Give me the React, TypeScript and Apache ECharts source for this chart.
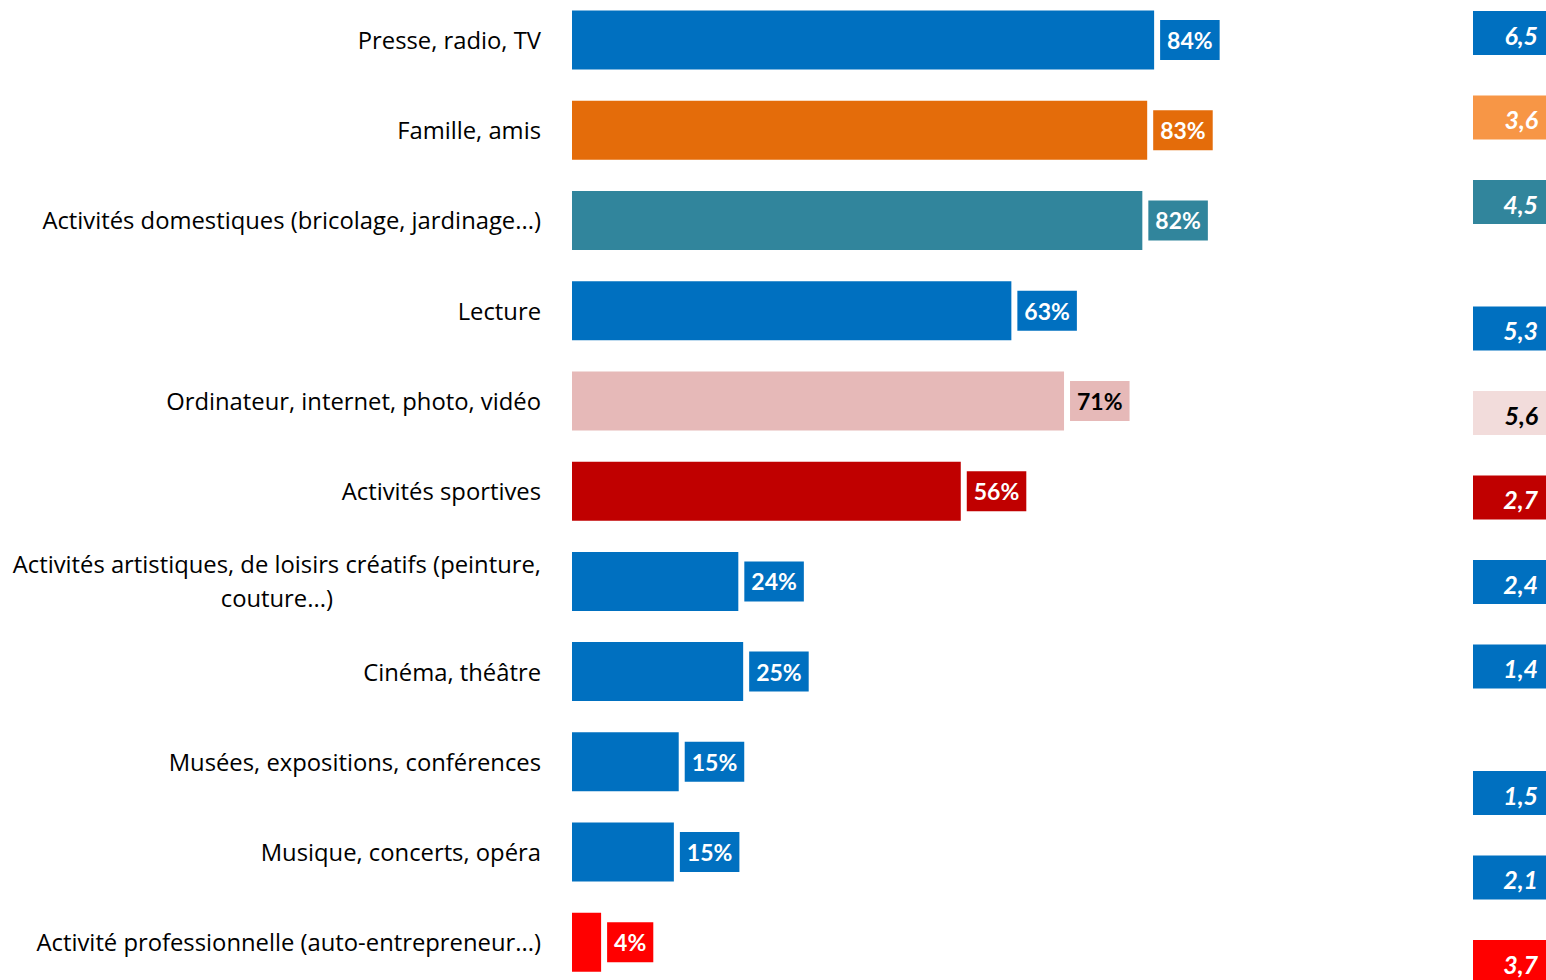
import React, { useEffect, useRef } from "react";
import * as echarts from "echarts";

const categories = [
  "Presse, radio, TV",
  "Famille, amis",
  "Activités domestiques (bricolage, jardinage...)",
  "Lecture",
  "Ordinateur, internet, photo, vidéo",
  "Activités sportives",
  "Activités artistiques, de loisirs créatifs (peinture,\ncouture...)",
  "Cinéma, théâtre",
  "Musées, expositions, conférences",
  "Musique, concerts, opéra",
  "Activité professionnelle (auto-entrepreneur...)",
];
const shareValues = [84, 83, 82.3, 63.4, 71, 56.1, 24, 24.7, 15.4, 14.7, 4.2];
const barColors = [
  "#0070C0", "#E46C0A", "#31859C", "#0070C0", "#E6B9B8", "#C00000",
  "#0070C0", "#0070C0", "#0070C0", "#0070C0", "#FF0000",
];
const barLabelColors = [
  "#fff", "#fff", "#fff", "#fff", "#000", "#fff", "#fff", "#fff", "#fff", "#fff", "#fff",
];
const scoreValues = [6.5, 3.6, 4.5, 5.3, 5.6, 2.7, 2.4, 1.4, 1.5, 2.1, 3.7];
const scoreSlots = [0, 1, 2, 3.5, 4.5, 5.5, 6.5, 7.5, 9, 10, 11];
const scoreColors = [
  "#0070C0", "#F79646", "#31859C", "#0070C0", "#F2DCDB", "#C00000",
  "#0070C0", "#0070C0", "#0070C0", "#0070C0", "#FF0000",
];
const scoreTextColors = [
  "#fff", "#fff", "#fff", "#fff", "#000", "#fff", "#fff", "#fff", "#fff", "#fff", "#fff",
];

const CAT_FONT = "'Open Sans', 'Noto Sans', sans-serif";
const NUM_FONT = "Lato, 'Noto Sans', sans-serif";
const CAT_SIZE = 23.8;

export default function App() {
  const ref = useRef<HTMLDivElement>(null);
  useEffect(() => {
    if (!ref.current) return;
    const chart = echarts.init(ref.current, undefined, { renderer: "svg" });
    chart.setOption({
      animation: false,
      backgroundColor: "#ffffff",
      textStyle: { fontFamily: CAT_FONT },
      grid: [
        {
          left: 572, top: -5.1, width: 693, height: 992.5,
          containLabel: false, outerBoundsMode: "none",
        },
        {
          left: 1473, top: 33, width: 74, height: 929,
          containLabel: false, outerBoundsMode: "none",
        },
      ],
      xAxis: [
        { type: "value", min: 0, max: 100, gridIndex: 0, show: false },
        { type: "value", min: 0, max: 1, gridIndex: 1, show: false },
      ],
      yAxis: [
        {
          type: "category",
          gridIndex: 0,
          inverse: true,
          data: categories,
          axisLine: { show: false },
          axisTick: { show: false },
          splitLine: { show: false },
          axisLabel: {
            margin: 31,
            fontSize: CAT_SIZE,
            color: "#000",
            fontFamily: CAT_FONT,
            formatter: (v: string) => {
              const parts = v.split("\n");
              if (parts.length === 1) return v;
              return `{a|${parts[0]}}\n{c|${parts[1]}}`;
            },
            rich: {
              a: { fontSize: CAT_SIZE, color: "#000", fontFamily: CAT_FONT, lineHeight: 34, align: "right" },
              c: { fontSize: CAT_SIZE, color: "#000", fontFamily: CAT_FONT, lineHeight: 34, align: "center" },
            },
          },
        },
        {
          type: "value",
          gridIndex: 1,
          min: 0,
          max: 11,
          inverse: true,
          show: false,
        },
      ],
      series: [
        {
          type: "bar",
          xAxisIndex: 0,
          yAxisIndex: 0,
          barWidth: 59,
          data: shareValues.map((v, i) => ({
            value: v,
            itemStyle: { color: barColors[i] },
            label: { backgroundColor: barColors[i], color: barLabelColors[i] },
          })),
          label: {
            show: true,
            position: "right",
            distance: 6,
            fontSize: 23,
            fontWeight: "bold",
            fontFamily: NUM_FONT,
            lineHeight: 24,
            padding: [8, 7, 8, 7],
            formatter: (p: any) => `${Math.round(p.value)}%`,
          },
        },
        {
          type: "scatter",
          xAxisIndex: 1,
          yAxisIndex: 1,
          symbol: "rect",
          symbolSize: [74, 44],
          data: scoreValues.map((v, i) => ({
            value: [0.5, scoreSlots[i], v],
            itemStyle: { color: scoreColors[i], opacity: 1 },
            label: { color: scoreTextColors[i] },
          })),
          label: {
            show: true,
            position: ["88%", "54%"],
            align: "right",
            verticalAlign: "middle",
            fontSize: 25,
            fontWeight: "bold",
            fontStyle: "italic",
            fontFamily: NUM_FONT,
            formatter: (p: any) => String(p.value[2]).replace(".", ","),
          },
        },
      ],
    });
    return () => chart.dispose();
  }, []);
  return (
    <div
      ref={ref}
      style={{ position: "absolute", left: 0, top: 0, width: 1546, height: 980 }}
    />
  );
}
